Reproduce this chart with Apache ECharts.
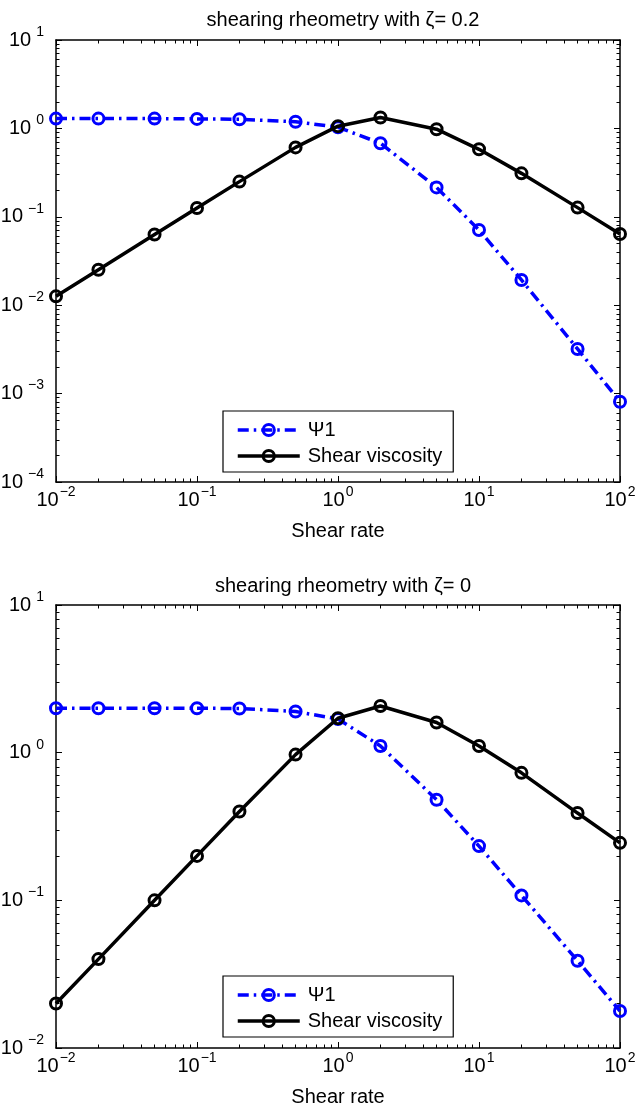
<!DOCTYPE html>
<html>
<head>
<meta charset="utf-8">
<script src="https://cdn.jsdelivr.net/npm/echarts@6/dist/echarts.min.js"></script>
<style>
html,body{margin:0;padding:0;background:#fff;}
#c{width:637px;height:1107px;}
</style>
</head>
<body>
<div id="c"></div>
<script>
// ---- data ----
const shearRate = [0.01, 0.02, 0.05, 0.1, 0.2, 0.5, 1, 2, 5, 10, 20, 50, 100];
const psi1Top = [1.29, 1.29, 1.29, 1.28, 1.27, 1.19, 1.03, 0.68, 0.215, 0.071, 0.0193, 0.0032, 0.00081];
const etaTop  = [0.0126, 0.0252, 0.063, 0.126, 0.25, 0.61, 1.06, 1.33, 0.98, 0.58, 0.31, 0.127, 0.064];
const psi1Bot = [2.0, 2.0, 2.0, 2.0, 1.99, 1.90, 1.69, 1.11, 0.48, 0.233, 0.108, 0.039, 0.0178];
const etaBot  = [0.02, 0.04, 0.1, 0.2, 0.4, 0.97, 1.71, 2.07, 1.60, 1.11, 0.73, 0.39, 0.245];
const titles = ['shearing rheometry with \u03b6= 0.2', 'shearing rheometry with \u03b6= 0'];
const seriesNames = ['\u03a81', 'Shear viscosity'];
const xLabel = 'Shear rate';
const xRange = [0.01, 100];
const yRanges = [[1e-4, 10], [1e-2, 10]];

// ---- helpers ----
function decades(min, max) {
  const out = [];
  for (let e = Math.round(Math.log10(min)); e <= Math.round(Math.log10(max)); e++) out.push(Math.pow(10, e));
  return out;
}
function minors(min, max) {
  const out = [];
  for (let e = Math.round(Math.log10(min)); e < Math.round(Math.log10(max)); e++)
    for (let k = 2; k <= 9; k++) out.push(k * Math.pow(10, e));
  return out;
}
function expText(v) {
  const e = Math.round(Math.log10(v));
  return e < 0 ? '\u2212' + (-e) : String(e);
}
function fmtX(v) { return '{b|10}{s|' + expText(v) + '}'; }
function fmtY(v) { return '{b|10}{sy|' + expText(v) + '}'; }
const FONT = 'Liberation Sans, Arial, sans-serif';
const rich = {
  b: { fontSize: 20, lineHeight: 20, color: '#000', fontFamily: FONT },
  s: { fontSize: 14, lineHeight: 14, padding: [0, 0, 16, 1], color: '#000', fontFamily: FONT },
  sy: { fontSize: 14, lineHeight: 14, padding: [0, 0, 16, 5], color: '#000', fontFamily: FONT }
};

const AX = { color: '#000', width: 1.5 };
const TK = { color: '#000', width: 1 };
const xAxes = [], yAxes = [];
[0, 1].forEach(g => {
  const [ymin, ymax] = yRanges[g];
  const base = { type: 'log', logBase: 10, gridIndex: g, splitLine: { show: false }, minorTick: { show: false } };
  xAxes.push(Object.assign({}, base, {
    min: xRange[0], max: xRange[1], position: 'bottom',
    name: xLabel, nameLocation: 'middle', nameGap: 39,
    nameTextStyle: { fontSize: 20, color: '#000', fontFamily: FONT },
    axisLine: { show: true, lineStyle: AX },
    axisTick: { show: true, inside: true, length: 6, lineStyle: TK, customValues: decades(xRange[0], xRange[1]) },
    axisLabel: { show: true, margin: 8, formatter: fmtX, rich: rich, customValues: decades(xRange[0], xRange[1]) }
  }));
  xAxes.push(Object.assign({}, base, {
    min: xRange[0], max: xRange[1], position: 'bottom',
    axisLine: { show: false },
    axisTick: { show: true, inside: true, length: 3.5, lineStyle: TK, customValues: minors(xRange[0], xRange[1]) },
    axisLabel: { show: false }
  }));
  xAxes.push(Object.assign({}, base, {
    min: xRange[0], max: xRange[1], position: 'top',
    axisLine: { show: true, lineStyle: AX },
    axisTick: { show: true, inside: true, length: 6, lineStyle: TK, customValues: decades(xRange[0], xRange[1]) },
    axisLabel: { show: false }
  }));
  xAxes.push(Object.assign({}, base, {
    min: xRange[0], max: xRange[1], position: 'top',
    axisLine: { show: false },
    axisTick: { show: true, inside: true, length: 3.5, lineStyle: TK, customValues: minors(xRange[0], xRange[1]) },
    axisLabel: { show: false }
  }));
  yAxes.push(Object.assign({}, base, {
    min: ymin, max: ymax, position: 'left',
    axisLine: { show: true, lineStyle: AX },
    axisTick: { show: true, inside: true, length: 6, lineStyle: TK, customValues: decades(ymin, ymax) },
    axisLabel: { show: true, margin: 12, formatter: fmtY, rich: rich, customValues: decades(ymin, ymax) }
  }));
  yAxes.push(Object.assign({}, base, {
    min: ymin, max: ymax, position: 'left',
    axisLine: { show: false },
    axisTick: { show: true, inside: true, length: 3.5, lineStyle: TK, customValues: minors(ymin, ymax) },
    axisLabel: { show: false }
  }));
  yAxes.push(Object.assign({}, base, {
    min: ymin, max: ymax, position: 'right',
    axisLine: { show: true, lineStyle: AX },
    axisTick: { show: true, inside: true, length: 6, lineStyle: TK, customValues: decades(ymin, ymax) },
    axisLabel: { show: false }
  }));
  yAxes.push(Object.assign({}, base, {
    min: ymin, max: ymax, position: 'right',
    axisLine: { show: false },
    axisTick: { show: true, inside: true, length: 3.5, lineStyle: TK, customValues: minors(ymin, ymax) },
    axisLabel: { show: false }
  }));
});

function pairs(ys) { return shearRate.map((x, i) => [x, ys[i]]); }
function makeSeries(g, ys, idx) {
  const col = idx === 0 ? '#0000ff' : '#000000';
  return {
    name: seriesNames[idx], type: 'line', xAxisIndex: g * 4, yAxisIndex: g * 4,
    data: pairs(ys), symbol: 'circle', symbolSize: 11, showAllSymbol: true, clip: false,
    lineStyle: { color: col, width: 3.5, type: idx === 0 ? [11, 5, 2.5, 5] : 'solid' },
    itemStyle: { color: 'rgba(0,0,0,0)', borderColor: col, borderWidth: 3 },
    emphasis: { disabled: true }, z: 2 + idx
  };
}

function legendAt(top) {
  return {
    data: seriesNames, left: 223, top: top, orient: 'vertical',
    itemWidth: 62, itemHeight: 14, itemGap: 6, padding: [9, 11, 6, 13],
    borderColor: '#000', borderWidth: 1.2, backgroundColor: '#fff',
    selectedMode: false, z: 10,
    lineStyle: { width: 3.5 },
    itemStyle: { borderWidth: 3 },
    textStyle: { fontSize: 20, lineHeight: 20, color: '#000', fontFamily: FONT, padding: [0, 0, 0, 3] }
  };
}

const option = {
  animation: false,
  backgroundColor: '#fff',
  textStyle: { fontFamily: FONT },
  title: [
    { text: titles[0], left: 338, top: 5, textAlign: 'center', textStyle: { fontSize: 20, fontWeight: 'normal', color: '#000', fontFamily: FONT } },
    { text: titles[1], left: 338, top: 571, textAlign: 'center', textStyle: { fontSize: 20, fontWeight: 'normal', color: '#000', fontFamily: FONT } }
  ],
  legend: [legendAt(411), legendAt(976)],
  grid: [
    { left: 56, right: 17, top: 40, height: 442, outerBoundsMode: 'none' },
    { left: 56, right: 17, top: 605, height: 443, outerBoundsMode: 'none' }
  ],
  xAxis: xAxes,
  yAxis: yAxes,
  series: [
    makeSeries(0, psi1Top, 0), makeSeries(0, etaTop, 1),
    makeSeries(1, psi1Bot, 0), makeSeries(1, etaBot, 1)
  ]
};
const chart = echarts.init(document.getElementById('c'), null, { renderer: 'canvas' });
chart.setOption(option);
</script>
</body>
</html>
